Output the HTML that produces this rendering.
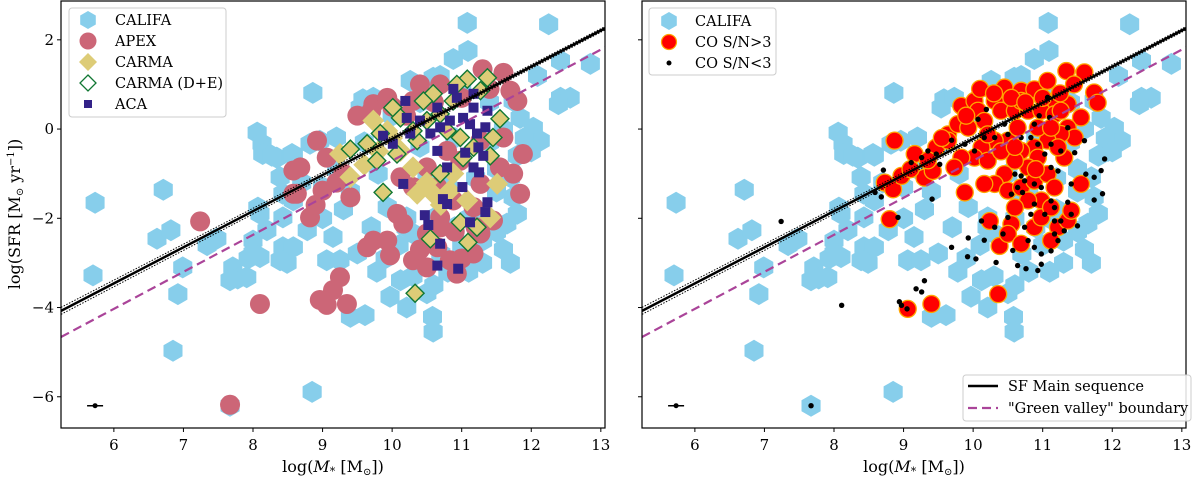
<!DOCTYPE html>
<html><head><meta charset="utf-8"><style>
html,body{margin:0;padding:0;background:#fff;}
svg{display:block;font-family:"DejaVu Serif","Liberation Serif",serif;}
</style></head><body>
<svg id="chart" width="1200" height="478" viewBox="0 0 1200 478">
<g id="panelL"></g>
<g id="panelR"></g>
</svg>
<script>
// ---- data (log M*, log SFR) ----
const califaX = [5.73,5.70,6.71,6.62,6.82,6.99,6.92,6.85,7.48,7.34,7.71,7.67,7.78,7.93,8.10,8.07,8.06,8.13,8.14,8.34,8.56,8.39,8.43,8.43,8.49,8.20,8.00,
11.08,12.25,11.09,10.88,10.69,8.86,9.58,9.54,12.09,12.42,12.85,12.42,12.56,12.39,12.03,12.13,11.94,8.27,8.58,8.82,8.96,9.20,8.58,8.78,9.15,8.58,8.39,9.06,9.25,9.50,9.78,9.97,10.21,10.12,10.50,10.58,10.59,8.85,9.40,9.61,11.65,11.74,11.70,9.93,10.21,10.30,8.10,8.00,7.91,8.43,11.84,11.74,10.59,10.26,9.73,
10.5,10.8,11.2,11.0,11.5,10.8,11.3,10.1,9.7,9.3,9.0,9.6,10.0,10.4,11.0,11.4,11.6,11.8,11.5,10.6,10.9,11.3,11.6,11.7,11.1,10.6,10.3,11.5,11.8,10.7,11.2,7.67,
9.2,9.4,9.0,8.7,9.8,10.4,10.9,11.4,11.9,12.0,9.9,10.2,10.7,11.1];
const califaY = [-1.65,-3.28,-1.36,-2.46,-2.27,-3.10,-3.70,-4.97,-2.46,-2.60,-3.10,-3.39,-3.35,-2.90,-2.87,-1.76,-0.08,-0.33,-0.56,-0.64,-0.56,-1.08,-1.45,-2.65,-3.00,-2.27,-2.50,
2.38,2.35,1.75,1.57,1.19,0.81,0.67,0.48,1.19,1.53,1.46,0.70,0.70,0.56,0.03,-0.26,-0.49,-0.60,-0.60,-0.33,-0.26,-0.19,-1.60,-2.27,-2.42,-2.65,-2.94,-2.94,-2.94,-2.79,-3.20,-3.76,-4.00,-3.39,-3.68,-4.21,-4.54,-5.89,-4.21,-4.17,-2.12,-1.53,-1.08,-1.75,-1.98,-2.34,-1.90,-2.79,-3.32,-1.98,0.25,0.63,1.15,1.08,0.70,
-1.0,-1.3,-1.8,-2.6,-2.3,-3.2,-3.0,-2.6,-2.2,-1.8,-1.3,-0.3,0.3,0.6,0.9,0.6,0.0,-0.6,-0.9,-2.0,-2.2,-2.5,-2.7,-3.0,-3.2,-3.5,-3.3,-1.4,-1.9,-1.5,-1.1,-6.2,
-0.9,-1.4,-2.0,-1.2,-1.0,-0.4,-0.2,-0.3,-0.2,-0.5,-2.9,-2.2,-2.8,-2.0];
const apexX = [8.10,7.24,7.67,8.58,8.58,8.92,9.06,8.68,8.63,8.82,9.40,9.30,9.73,9.93,10.40,10.69,11.30,11.60,11.70,11.80,11.60,11.88,11.74,11.84,11.55,11.27,10.07,10.16,9.73,9.64,9.93,9.97,10.30,10.50,10.69,10.65,10.83,10.93,11.17,11.27,11.45,10.88,11.17,10.50,10.65,10.98,9.25,9.15,8.96,9.06,9.35,10.30,10.12,9.00,10.79,11.27,10.30,
9.5,9.7,10.0,10.2,10.6,11.0,11.4,10.9,11.2,10.4,9.2,8.9,10.7,11.0,10.5];
const apexY = [-3.92,-2.07,-6.18,-0.93,-1.45,-0.26,-0.64,-0.86,-1.45,-1.98,-1.53,-1.00,0.56,0.70,1.00,1.00,1.34,1.26,0.86,0.63,-0.19,-0.56,-1.00,-1.45,-0.86,-1.23,-1.90,-2.12,-2.50,-2.65,-2.50,-2.83,-2.94,-2.34,-1.98,-2.65,-2.94,-3.24,-2.79,-2.34,-2.05,-1.60,-1.75,-0.86,-1.30,-0.71,-3.32,-3.61,-3.83,-3.94,-3.92,-1.30,-1.08,-1.38,-0.49,-0.26,0.63,
0.3,0.4,0.5,0.3,0.6,0.7,0.9,-2.3,-2.2,-2.7,-1.2,-1.7,-2.2,-2.9,-3.1];
const carmaX = [9.25,9.40,9.73,10.30,10.36,10.59,10.83,11.08,11.51,11.41,10.88,10.12,9.93,9.6,9.8,10.0,10.5,10.7];
const carmaY = [-0.56,-1.08,0.19,-0.86,-1.45,-1.45,-1.38,-1.60,-1.23,-1.98,-1.00,-0.49,-0.04,-0.8,-0.5,-0.2,-1.2,-1.7];
const carmaDEX = [10.01,9.40,9.87,10.33,10.55,10.98,11.09,11.22,10.69,11.41,11.45,11.55,11.37,11.08,10.59,10.45,10.12,9.83,9.64,9.78,10.07,10.36,10.79,10.98,11.17,10.88,11.27,10.69,10.50,10.30,11.02,10.93];
const carmaDEY = [0.48,-0.45,-1.42,-3.68,-2.46,-2.09,-2.54,-2.20,-1.00,-0.60,-0.19,0.23,1.15,1.12,0.79,0.63,0.25,-0.10,-0.33,-0.71,-0.56,-0.26,-0.04,-0.19,-0.41,0.63,0.86,0.34,0.19,-0.04,-0.64,1.00];
const acaX = [10.19,10.88,10.93,11.17,10.65,10.21,10.40,9.87,10.01,10.26,10.55,10.69,10.83,11.02,11.17,11.37,11.12,11.34,11.22,10.65,10.79,11.05,11.24,11.31,11.17,11.25,10.16,11.01,10.73,10.79,11.37,11.34,10.47,10.52,11.12,10.69,10.65,10.95];
const acaY = [0.63,0.90,0.70,0.79,0.48,0.25,0.19,-0.15,-0.33,-0.10,-0.10,0.04,0.19,0.25,0.48,0.41,0.11,0.04,-0.10,-0.49,-0.86,-0.53,-0.41,-0.60,-0.86,-0.97,-1.23,-1.30,-1.57,-1.68,-1.64,-1.86,-1.93,-2.15,-2.09,-2.57,-3.06,-3.13];
const detX = [8.87,8.80,9.88,10.24,10.38,10.36,9.40,9.06,8.73,8.85,8.97,9.16,9.30,9.42,9.47,9.64,9.78,9.83,10.02,10.07,10.16,10.31,10.45,10.69,10.88,11.07,11.34,11.60,11.17,11.36,11.74,11.79,11.55,11.36,11.46,11.31,11.26,11.07,10.88,10.69,10.50,10.31,10.12,10.02,9.83,9.73,9.64,9.93,10.21,10.40,10.60,10.79,10.98,11.17,10.64,10.93,11.12,11.22,10.93,10.79,10.60,10.45,10.31,10.16,10.50,10.69,10.88,11.07,11.17,10.98,10.79,10.60,10.55,10.50,10.69,10.88,10.98,11.12,11.22,11.36,11.41,11.12,11.55,11.26,10.69,10.21,
9.55,9.9,10.1,10.3,10.55,10.75,11.0,11.25,11.45,10.4,10.6,10.9,9.35,9.1];
const detY = [-0.26,-2.02,-1.42,-2.06,-2.62,-3.70,-3.92,-4.03,-1.20,-1.35,-1.05,-0.56,-1.09,-0.94,-0.41,-0.12,0.11,0.52,0.63,0.41,0.18,0.63,0.93,0.86,0.89,1.08,1.30,1.27,0.63,0.56,0.82,0.59,0.26,0.03,-0.19,-0.64,-0.11,-0.26,-0.41,-0.49,-0.26,-0.26,-0.41,-0.64,-0.64,-0.86,-0.26,0.03,-0.12,0.41,0.41,0.41,0.41,0.33,0.03,0.03,0.03,-0.41,-0.64,-0.86,-0.71,-1.01,-1.23,-1.23,-1.38,-1.31,-1.16,-1.01,-1.31,-1.60,-1.60,-1.76,-2.13,-2.35,-2.57,-2.20,-1.98,-1.76,-2.20,-2.05,-1.83,-2.50,-1.23,0.41,0.63,-0.71,
-0.2,0.3,0.9,0.8,0.7,0.6,0.7,0.8,1.0,-0.5,-0.4,-0.9,-0.7,-0.9];
const ndX = [8.71,8.59,8.68,8.92,9.11,9.26,9.35,9.47,9.52,9.69,9.88,10.02,10.19,10.07,10.16,10.31,10.45,10.50,10.69,10.88,10.95,11.10,11.07,10.83,10.93,11.03,11.12,11.26,11.36,11.46,11.60,10.60,10.69,10.74,10.64,10.55,10.71,10.88,10.98,11.12,11.22,11.12,11.17,10.88,10.83,11.03,11.17,11.36,11.41,11.26,11.50,11.31,11.17,11.22,11.12,10.98,10.88,10.79,10.74,10.50,10.43,10.31,10.12,9.93,10.16,9.69,9.92,10.04,10.33,10.57,10.64,10.76,10.93,10.98,11.41,11.62,11.74,11.84,11.89,11.74,11.86,9.30,9.18,9.26,8.94,8.97,9.05,8.11,9.41,7.24,7.67];
const ndY = [-0.92,-1.42,-1.52,-1.98,-0.75,-0.64,-0.49,-0.56,-0.79,-0.25,-0.34,-0.49,0.44,0.22,-0.19,-0.19,0.11,-0.12,-0.19,0.11,0.30,0.26,0.71,-0.19,-0.34,-0.56,-0.34,-0.49,0.03,-0.53,-0.26,-1.01,-1.05,-1.16,-1.31,-1.46,-1.42,-1.23,-1.31,-0.86,-0.94,-1.61,-1.76,-1.68,-1.91,-1.91,-2.06,-1.64,-1.91,-2.06,-2.17,-2.28,-2.35,-2.50,-2.73,-2.80,-2.65,-2.50,-2.20,-1.98,-2.35,-2.20,-2.06,-2.44,-2.49,-2.65,-2.86,-2.91,-2.99,-2.72,-3.06,-3.13,-3.17,-3.03,-1.23,-1.01,-1.08,-0.93,-0.67,-1.59,-1.45,-3.40,-3.58,-3.65,-3.87,-3.95,-4.03,-3.95,-1.57,-2.07,-6.2];
const msLine = [0.81, -8.32];   // slope, intercept
const gvLine = [0.83, -9.01];
const xTicks = [6,7,8,9,10,11,12,13];
const yTicks = [2,0,-2,-4,-6];

const NS='http://www.w3.org/2000/svg';
const XMIN=5.24, XMAX=13.06, YMIN=-6.7, YMAX=2.87;
function mk(parent,tag,attrs){const e=document.createElementNS(NS,tag);for(const k in attrs)e.setAttribute(k,attrs[k]);parent.appendChild(e);return e;}
function hexPts(cx,cy,r){let p=[];for(let i=0;i<6;i++){const a=Math.PI/6+i*Math.PI/3;p.push((cx+r*Math.cos(a)).toFixed(1)+','+(cy+r*Math.sin(a)).toFixed(1));}return p.join(' ');}

function panel(g,L,R,T,B,isLeft){
  const sx=v=>L+(v-XMIN)/(XMAX-XMIN)*(R-L);
  const sy=v=>T+(YMAX-v)/(YMAX-YMIN)*(B-T);
  const clipId='clip'+(isLeft?'L':'R');
  const defs=mk(g,'defs',{});const cp=mk(defs,'clipPath',{id:clipId});mk(cp,'rect',{x:L,y:T,width:R-L,height:B-T});
  const pl=mk(g,'g',{'clip-path':'url(#'+clipId+')'});
  
  
  califaX.forEach((x,i)=>{const h=mk(pl,'polygon',{points:hexPts(sx(x),sy(califaY[i]),11),fill:'#87ceeb'});
    
    });
  if(isLeft){
    apexX.forEach((x,i)=>{const c=mk(pl,'circle',{cx:sx(x),cy:sy(apexY[i]),r:10,fill:'#cc6677'});
      
      });
    carmaX.forEach((x,i)=>{const cx=sx(x),cy=sy(carmaY[i]),d=11;const p=mk(pl,'polygon',{points:`${cx},${cy-d} ${cx+d},${cy} ${cx},${cy+d} ${cx-d},${cy}`,fill:'#ddcc77'});
      
      });
    carmaDEX.forEach((x,i)=>{const cx=sx(x),cy=sy(carmaDEY[i]),d=9;const p=mk(pl,'polygon',{points:`${cx},${cy-d} ${cx+d},${cy} ${cx},${cy+d} ${cx-d},${cy}`,fill:'#ddcc77',stroke:'#117733','stroke-width':1.4});
      
      });
    acaX.forEach((x,i)=>{const s=mk(pl,'rect',{x:sx(x)-5,y:sy(acaY[i])-5,width:10,height:10,fill:'#332288'});
      
      });
  } else {
    detX.forEach((x,i)=>{const c=mk(pl,'circle',{cx:sx(x),cy:sy(detY[i]),r:8.5,fill:'#ff0000',stroke:'#ffa500','stroke-width':1.3});
      
      });
    ndX.forEach((x,i)=>{const c=mk(pl,'circle',{cx:sx(x),cy:sy(ndY[i]),r:2.7,fill:'#000'});
      
      });
  }
  const lf=(c,x)=>c[0]*x+c[1];
  [-1,1].forEach(s=>{const o=x=>s*(0.01+0.003*(x-10)*(x-10));mk(pl,'line',{x1:sx(XMIN),y1:sy(lf(msLine,XMIN)+o(XMIN)),x2:sx(XMAX),y2:sy(lf(msLine,XMAX)+o(XMAX)),stroke:'#000','stroke-width':1,'stroke-dasharray':'1.5,1.5'});});
  const ms=mk(pl,'line',{x1:sx(XMIN),y1:sy(lf(msLine,XMIN)),x2:sx(XMAX),y2:sy(lf(msLine,XMAX)),stroke:'#000','stroke-width':2.5});
  
  
  const gv=mk(pl,'line',{x1:sx(XMIN),y1:sy(lf(gvLine,XMIN)),x2:sx(XMAX),y2:sy(lf(gvLine,XMAX)),stroke:'#aa4499','stroke-width':2.2,'stroke-dasharray':'9,5'});
  
  
  const ex=sx(5.73),ey=sy(-6.2);
  mk(pl,'line',{x1:ex-8,y1:ey,x2:ex+8,y2:ey,stroke:'#000','stroke-width':1.5});
  mk(pl,'circle',{cx:ex,cy:ey,r:2.5,fill:'#000'});
  mk(g,'rect',{x:L,y:T,width:R-L,height:B-T,fill:'none',stroke:'#000','stroke-width':1.2});
  xTicks.forEach(t=>{const x=sx(t);mk(g,'line',{x1:x,y1:B,x2:x,y2:B+4,stroke:'#000'});
    const tx=mk(g,'text',{x:x,y:B+22,'text-anchor':'middle','font-size':15});tx.textContent=t;
    
    });
  yTicks.forEach(t=>{const y=sy(t);mk(g,'line',{x1:L-4,y1:y,x2:L,y2:y,stroke:'#000'});
    if(isLeft){const tx=mk(g,'text',{x:L-7,y:y+5,'text-anchor':'end','font-size':15});tx.textContent=(t<0?'\u2212'+(-t):t);
      
      }});
  const xl=mk(g,'text',{x:(L+R)/2,y:B+44,'text-anchor':'middle','font-size':16});
  xl.innerHTML='log(<tspan font-style="italic">M</tspan><tspan font-size="11" dy="3">*</tspan><tspan dy="-3"> [M</tspan><tspan font-size="10" dy="3">⊙</tspan><tspan dy="-3">])</tspan>';
  
  
}
const gL=document.getElementById('panelL'), gR=document.getElementById('panelR');
panel(gL,61,605,1,428,true);
panel(gR,642,1186,1,428,false);

const yl=mk(gL,'text',{transform:'translate(20,214) rotate(-90)','text-anchor':'middle','font-size':16});
yl.innerHTML='log(SFR [M<tspan font-size="10" dy="3">⊙</tspan><tspan dy="-3"> yr</tspan><tspan font-size="10" dy="-6">−1</tspan><tspan dy="6">])</tspan>';



function legendBox(g,x,y,w,h,name){const r=mk(g,'rect',{x:x,y:y,width:w,height:h,fill:'#fff','fill-opacity':0.85,stroke:'#ccc',rx:3});
  
  }
function ltext(g,x,y,s){const t=mk(g,'text',{x:x,y:y+5,'font-size':14.5});t.textContent=s;
  
  }
legendBox(gL,69,8,157,109,'left-legend');
mk(gL,'polygon',{points:hexPts(88,20,9),fill:'#87ceeb'});ltext(gL,115,20,'CALIFA');
mk(gL,'circle',{cx:88,cy:41,r:8.5,fill:'#cc6677'});ltext(gL,115,41,'APEX');
mk(gL,'polygon',{points:'88,53 97,62 88,71 79,62',fill:'#ddcc77'});ltext(gL,115,62,'CARMA');
mk(gL,'polygon',{points:'88,75 96,83 88,91 80,83',fill:'#fff',stroke:'#117733','stroke-width':1.3});ltext(gL,115,83,'CARMA (D+E)');
mk(gL,'rect',{x:84,y:100,width:8,height:8,fill:'#332288'});ltext(gL,115,104,'ACA');

legendBox(gR,649,8,127,67,'right-legend');
mk(gR,'polygon',{points:hexPts(669,21,9),fill:'#87ceeb'});ltext(gR,695,21,'CALIFA');
mk(gR,'circle',{cx:669,cy:42,r:7.5,fill:'#f00',stroke:'#ffa500','stroke-width':1.2});ltext(gR,695,42,'CO S/N>3');
mk(gR,'circle',{cx:669,cy:63,r:2.5,fill:'#000'});ltext(gR,695,63,'CO S/N<3');

legendBox(gR,963,375,228,46,'line-legend');
mk(gR,'line',{x1:968,y1:386,x2:998,y2:386,stroke:'#000','stroke-width':2.5});ltext(gR,1008,386,'SF Main sequence');
mk(gR,'line',{x1:968,y1:408,x2:998,y2:408,stroke:'#aa4499','stroke-width':2.2,'stroke-dasharray':'9,5'});ltext(gR,1008,408,'"Green valley" boundary');
</script>
</body></html>
